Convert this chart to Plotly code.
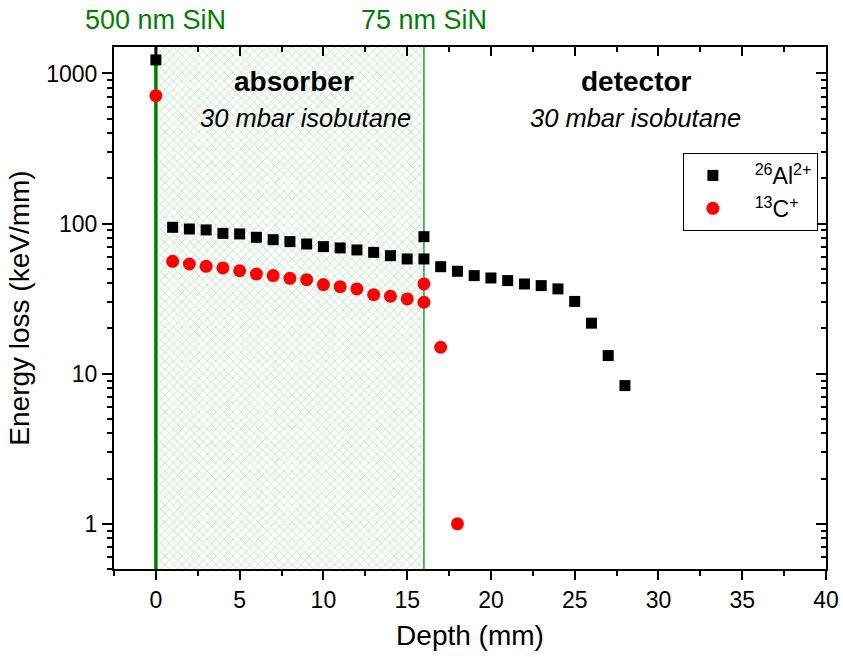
import math
import plotly.graph_objects as go

# Energy loss of 26Al2+ ions vs depth (mm)
al_depth = [0, 1, 2, 3, 4, 5, 6, 7, 8, 9, 10, 11, 12, 13, 14, 15, 16, 16,
            17, 18, 19, 20, 21, 22, 23, 24, 25, 26, 27, 28]
al_loss = [1230, 94.4, 92.0, 90.7, 86.0, 85.3, 81.0, 78.1, 75.8, 73.1, 70.2,
           68.8, 66.7, 64.3, 61.1, 58.1, 58.1, 81.8, 51.6, 48.1, 45.0, 43.4,
           41.7, 39.6, 38.6, 36.7, 30.3, 21.7, 13.2, 8.33]

# Energy loss of 13C+ ions vs depth (mm)
c_depth = [0, 1, 2, 3, 4, 5, 6, 7, 8, 9, 10, 11, 12, 13, 14, 15, 16, 16, 17, 18]
c_loss = [711, 56.0, 53.8, 51.9, 50.6, 48.5, 46.1, 45.0, 43.2, 42.3, 39.2,
          38.0, 36.7, 33.6, 32.8, 31.5, 29.9, 39.6, 15.0, 1.0]

# Window foils and chamber sections
foil_positions = [0, 16]
foil_labels = ["500 nm SiN", "75 nm SiN"]
absorber_span = [0, 16]

x_range = [-2.5, 40]
y_range = [0.5, 1500]
y_major = [1, 10, 100, 1000]
y_minor = [m * 10 ** e for e in range(-1, 4) for m in range(2, 10)
           if y_range[0] <= m * 10 ** e <= y_range[1]] + [0.5]

FONT = "Liberation Sans, Arial, sans-serif"
GREEN = "#008000"
NBSP = "\u00a0"

fig = go.Figure()

# hatched absorber region
fig.add_trace(go.Scatter(
    x=[absorber_span[0], absorber_span[1], absorber_span[1], absorber_span[0], absorber_span[0]],
    y=[y_range[0], y_range[0], y_range[1], y_range[1], y_range[0]],
    mode="lines", line=dict(width=0), fill="toself",
    fillcolor="rgba(0,0,0,0)",
    fillpattern=dict(shape="x", fgcolor="rgba(60,170,60,0.85)", bgcolor="white",
                     size=6, solidity=0.22),
    showlegend=False, hoverinfo="skip"))

# foil lines (drawn above the hatch, below the markers)
for xp, col, w in zip(foil_positions, [GREEN, "#1ea51e"], [3.5, 1.5]):
    fig.add_trace(go.Scatter(x=[xp, xp], y=y_range, mode="lines",
                             line=dict(color=col, width=w),
                             showlegend=False, hoverinfo="skip"))

fig.add_trace(go.Scatter(
    x=al_depth, y=al_loss, mode="markers", name=NBSP * 2 + "<sup>26</sup>Al<sup>2+</sup>",
    marker=dict(symbol="square", size=11, color="black")))
fig.add_trace(go.Scatter(
    x=c_depth, y=c_loss, mode="markers", name=NBSP * 2 + "<sup>13</sup>C<sup>+</sup>",
    marker=dict(symbol="circle", size=13, color="#ff0000")))

# helper trace so the mirrored top/right axes are drawn
fig.add_trace(go.Scatter(x=[None], y=[None], xaxis="x2", yaxis="y2",
                         showlegend=False, hoverinfo="skip"))

for xp, lbl in zip(foil_positions, foil_labels):
    fig.add_annotation(x=xp, y=1.052, xref="x", yref="paper", text=lbl, showarrow=False,
                       font=dict(family=FONT, size=27, color=GREEN), xanchor="center", yanchor="middle")

for xc, title in [(8.25, "absorber"), (28.7, "detector")]:
    fig.add_annotation(x=xc, y=0.933, xref="x", yref="paper", text="<b>%s</b>" % title,
                       showarrow=False, font=dict(family=FONT, size=28, color="black"),
                       xanchor="center", yanchor="middle")
for xc in [8.95, 28.6]:
    fig.add_annotation(x=xc, y=0.864, xref="x", yref="paper", text="<i>30 mbar isobutane</i>",
                       showarrow=False, font=dict(family=FONT, size=25.5, color="black"),
                       xanchor="center", yanchor="middle")

axis_common = dict(showgrid=False, zeroline=False, showline=True, linecolor="black",
                   linewidth=2, tickcolor="black", tickwidth=2, automargin=False)

fig.update_layout(
    width=843, height=657,
    margin=dict(l=114, r=17, t=47, b=88),
    paper_bgcolor="white", plot_bgcolor="white",
    font=dict(family=FONT, color="black"),
    showlegend=True,
    legend=dict(x=0.799, y=0.797, xanchor="left", yanchor="top",
                bordercolor="black", borderwidth=1, bgcolor="white",
                font=dict(family=FONT, size=23), itemwidth=48,
                tracegroupgap=0),
    xaxis=dict(range=x_range, ticks="outside", ticklen=9, dtick=5, tick0=0,
               tickfont=dict(size=23), title=dict(text="Depth (mm)", font=dict(size=28), standoff=14),
               minor=dict(ticks="outside", ticklen=5, dtick=2.5, tick0=0, tickwidth=2, tickcolor="black"),
               **axis_common),
    yaxis=dict(type="log", range=[math.log10(y_range[0]), math.log10(y_range[1])],
               ticks="outside", ticklen=10, tickvals=y_major, ticktext=[str(v) for v in y_major],
               tickfont=dict(size=23), title=dict(text="Energy loss (keV/mm)", font=dict(size=28), standoff=8),
               minor=dict(ticks="outside", ticklen=5, tickvals=y_minor, tickwidth=2, tickcolor="black"),
               **axis_common),
    xaxis2=dict(overlaying="x", side="top", range=x_range, ticks="inside", ticklen=9, dtick=5,
                tick0=0, showticklabels=False,
                minor=dict(ticks="inside", ticklen=5, dtick=2.5, tick0=0, tickwidth=2, tickcolor="black"),
                **axis_common),
    yaxis2=dict(overlaying="y", side="right", type="log",
                range=[math.log10(y_range[0]), math.log10(y_range[1])], ticks="inside", ticklen=10,
                tickvals=y_major, showticklabels=False,
                minor=dict(ticks="inside", ticklen=5, tickvals=y_minor, tickwidth=2, tickcolor="black"),
                **axis_common),
)

fig.write_html("out.html")
